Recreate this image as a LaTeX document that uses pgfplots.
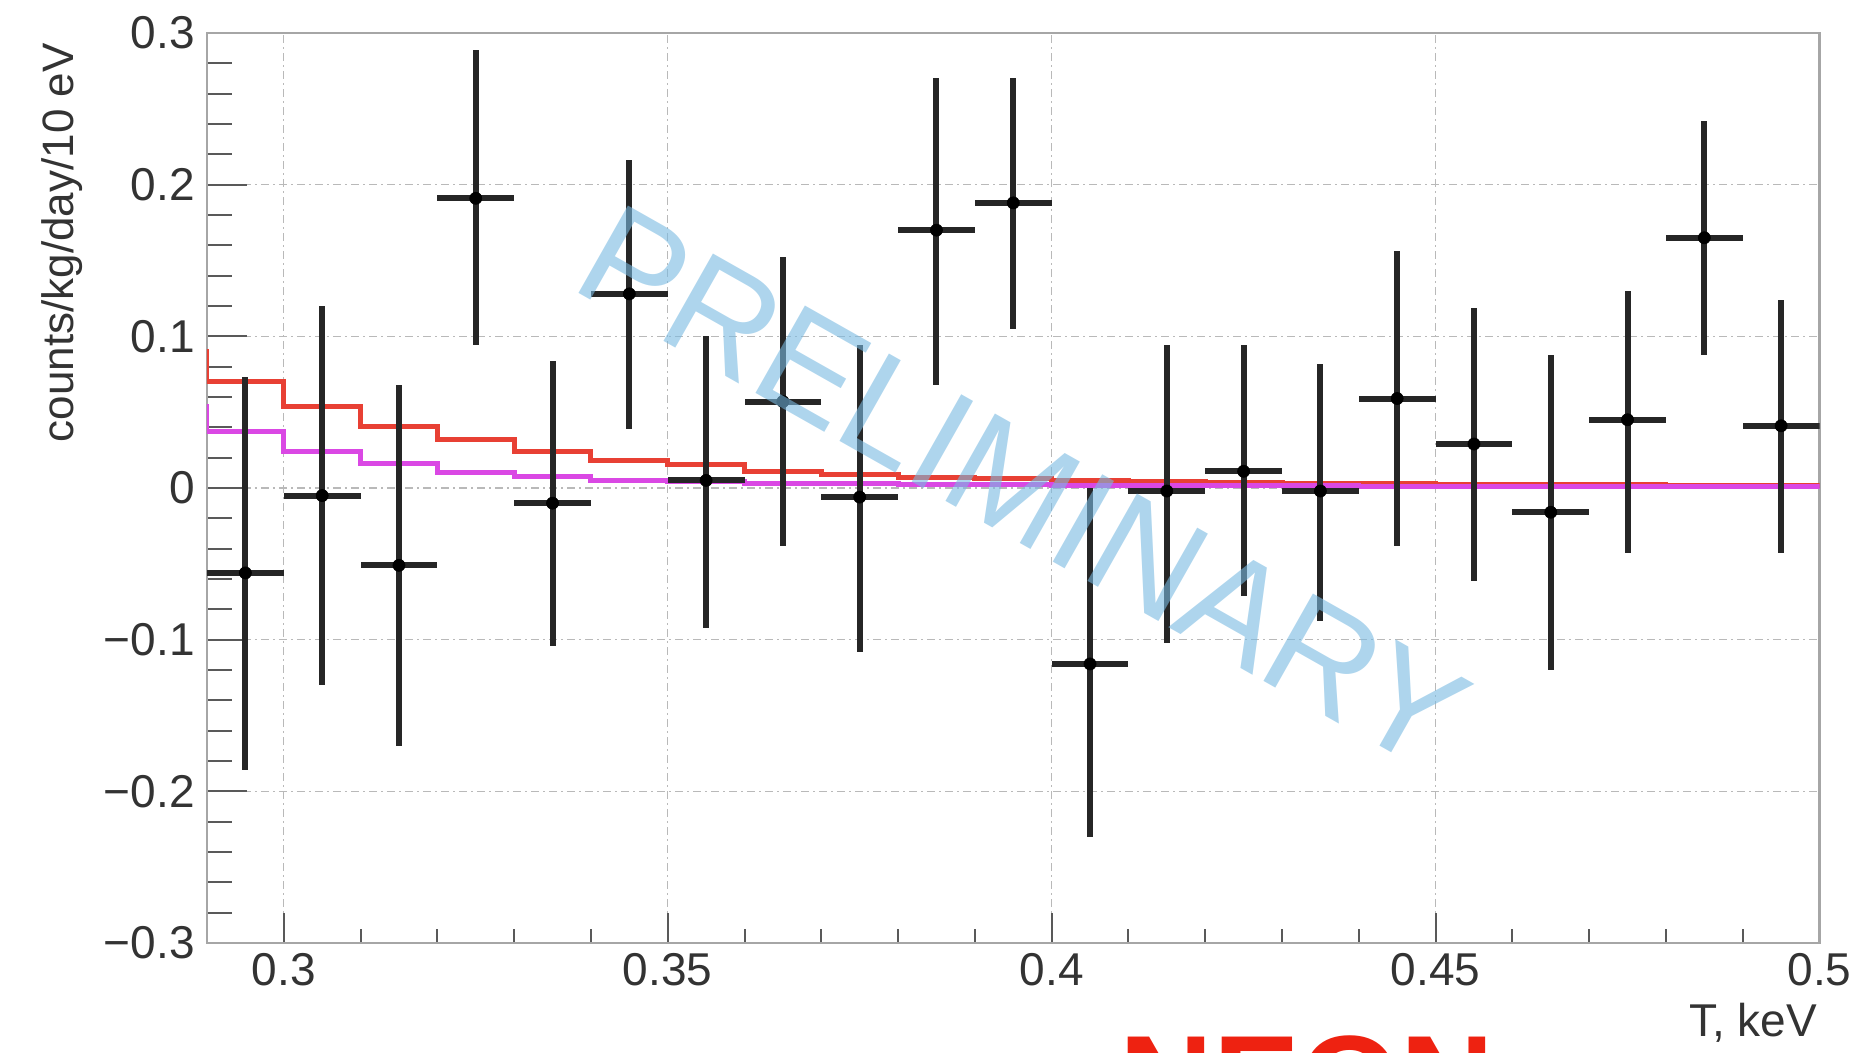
\documentclass[border=0pt]{standalone}
\usepackage{fontspec}
\setmainfont{Liberation Sans}
\usepackage{pgfplots}
\pgfplotsset{compat=1.18}
\usepackage{pgfplotstable}

\definecolor{histred}{RGB}{232,64,52}
\definecolor{histmag}{RGB}{218,72,228}
\definecolor{wmblue}{RGB}{120,185,225}
\definecolor{neonred}{RGB}{238,34,17}

\pgfplotstableread{
x y ep em
0.295 -0.056 0.129 0.130
0.305 -0.005 0.125 0.125
0.315 -0.051 0.119 0.119
0.325 0.191 0.098 0.097
0.335 -0.010 0.094 0.094
0.345 0.128 0.088 0.089
0.355 0.005 0.095 0.097
0.365 0.057 0.095 0.095
0.375 -0.006 0.100 0.102
0.385 0.170 0.100 0.102
0.395 0.188 0.082 0.083
0.405 -0.116 0.116 0.114
0.415 -0.002 0.096 0.100
0.425 0.011 0.083 0.082
0.435 -0.002 0.084 0.086
0.445 0.059 0.097 0.097
0.455 0.029 0.090 0.090
0.465 -0.016 0.104 0.104
0.475 0.045 0.085 0.088
0.485 0.165 0.077 0.077
0.495 0.041 0.083 0.084
}\datatable

\pgfplotstableread{
x y
0.28 0.0900
0.29 0.0705
0.30 0.0540
0.31 0.0405
0.32 0.0320
0.33 0.0240
0.34 0.0180
0.35 0.0153
0.36 0.0110
0.37 0.0088
0.38 0.0072
0.39 0.0060
0.40 0.0050
0.41 0.0043
0.42 0.0037
0.43 0.0032
0.44 0.0028
0.45 0.0025
0.46 0.0022
0.47 0.0020
0.48 0.0018
0.49 0.0016
0.50 0.0016
}\redhist

\pgfplotstableread{
x y
0.28 0.0540
0.29 0.0370
0.30 0.0240
0.31 0.0160
0.32 0.0100
0.33 0.0077
0.34 0.0050
0.35 0.0040
0.36 0.0032
0.37 0.0027
0.38 0.0023
0.39 0.0020
0.40 0.0018
0.41 0.0016
0.42 0.0015
0.43 0.0014
0.44 0.0013
0.45 0.0012
0.46 0.0011
0.47 0.0011
0.48 0.0010
0.49 0.0010
0.50 0.0010
}\maghist

\begin{document}
\begin{tikzpicture}
\begin{axis}[
  scale only axis,
  width=806.25bp, height=455bp,
  at={(0,0)}, anchor=south west,
  xmin=0.29, xmax=0.5, ymin=-0.3, ymax=0.3,
  xtick={0.3,0.35,0.4,0.45,0.5},
  xticklabels={0.3,0.35,0.4,0.45,0.5},
  ytick={-0.3,-0.2,-0.1,0,0.1,0.2,0.3},
  yticklabels={−0.3,−0.2,−0.1,0,0.1,0.2,0.3},
  minor x tick num=4, minor y tick num=4,
  tick align=inside, tick pos=left,
  grid=major,
  major grid style={gray!55, line width=0.7bp, dash pattern=on 4bp off 2bp on 1bp off 2bp},
  axis line style={gray!70, line width=1.2bp},
  tick style={black!65, line width=1bp},
  x tick style={/pgfplots/major tick length=15bp, /pgfplots/minor tick length=7bp},
  y tick style={/pgfplots/major tick length=20bp, /pgfplots/minor tick length=12.5bp},
  tick label style={font=\fontsize{23bp}{27bp}\selectfont, text=black!80, inner sep=0pt},
  xticklabel style={anchor=north, yshift=-5bp},
  yticklabel style={anchor=east, xshift=-6bp},
  xlabel={T, keV},
  ylabel={counts/kg/day/10 eV},
  every axis x label/.style={at={(rel axis cs:1,0)}, xshift=-1bp, yshift=-30bp, anchor=north east, inner sep=0pt, font=\fontsize{23bp}{27bp}\selectfont, text=black!80},
  every axis y label/.style={at={(rel axis cs:0,1)}, xshift=-62bp, yshift=-5bp, rotate=90, anchor=south east, inner sep=0pt, font=\fontsize{22bp}{26bp}\selectfont, text=black!80},
  clip=true,
]
\addplot[const plot, histred, line width=2.5bp] table[x=x, y=y] {\redhist};
\addplot[const plot, histmag, line width=2.5bp] table[x=x, y=y] {\maghist};
\addplot[only marks, mark=*, mark size=3bp, mark options={black, solid},
  error bars/.cd, x dir=both, x fixed=0.005, y dir=both, y explicit,
  error mark=none, error bar style={line width=3bp, black!85}]
  table[x=x, y=y, y error plus=ep, y error minus=em] {\datatable};
\end{axis}
\node[rotate=-29.5, text=wmblue, opacity=0.6, font=\fontsize{73bp}{85bp}\selectfont] at (408bp,228bp) {PRELIMINARY};
\node[anchor=base, text=neonred, font=\fontsize{65bp}{75bp}\selectfont\bfseries] at (550bp,-91.5bp) {NEON};
\pgfresetboundingbox
\useasboundingbox (-103.5bp,-55bp) rectangle (824bp,471.5bp);
\end{tikzpicture}
\end{document}
